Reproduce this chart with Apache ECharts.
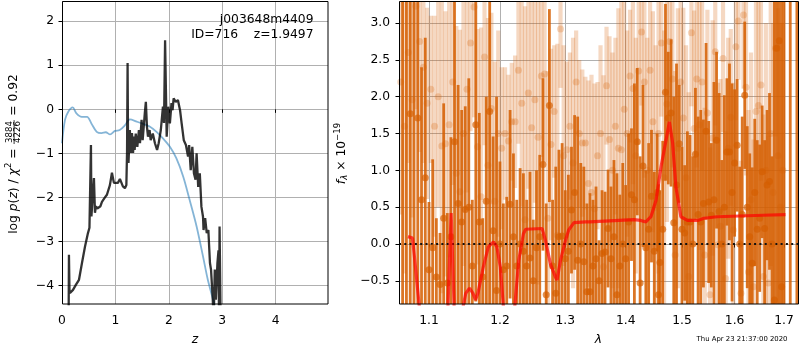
<!DOCTYPE html>
<html><head><meta charset="utf-8">
<script src="https://cdn.jsdelivr.net/npm/echarts@6/dist/echarts.min.js"></script>
<style>html,body{margin:0;padding:0;background:#fff}#c{width:800px;height:350px}</style>
</head><body><div id="c"></div>
<script>
// ---------- tick labels ----------
const zTicks = [0, 1, 2, 3, 4];
const logpTicks = [-4, -3, -2, -1, 0, 1, 2];
const lamTicks = [1.1, 1.2, 1.3, 1.4, 1.5, 1.6, 1.7];
const fluxTicks = [-0.5, 0.0, 0.5, 1.0, 1.5, 2.0, 2.5, 3.0];

// ---------- left panel: log p(z) ----------
const pzZ = [0.10,0.125,0.13,0.14,0.15,0.206,0.262,0.318,0.374,0.43,0.486,0.514,0.535,0.542,0.551,0.579,0.598,0.617,0.636,0.66,0.692,0.72,0.748,0.804,0.841,0.897,0.935,0.972,1.009,1.047,1.084,1.14,1.178,1.205,1.218,1.228,1.235,1.245,1.27,1.29,1.31,1.33,1.35,1.36,1.38,1.41,1.44,1.46,1.49,1.51,1.55,1.57,1.59,1.61,1.64,1.66,1.70,1.74,1.78,1.81,1.85,1.89,1.91,1.93,1.96,1.99,2.02,2.05,2.07,2.09,2.13,2.17,2.21,2.24,2.28,2.32,2.36,2.38,2.41,2.44,2.47,2.50,2.52,2.55,2.58,2.61,2.64,2.65,2.68,2.71,2.74,2.77,2.79,2.82,2.84,2.86,2.88,2.91,2.93,2.94,2.95,2.97];
const pzLogP = [-4.6,-4.5,-3.3,-4.1,-4.17,-4.1,-3.98,-3.87,-3.49,-3.12,-2.81,-2.69,-2.7,-0.81,-2.43,-2.4,-1.56,-2.35,-2.2,-2.25,-2.28,-2.2,-2.1,-2.0,-1.94,-1.72,-1.44,-1.67,-1.64,-1.67,-1.58,-1.75,-1.79,-1.72,-0.95,1.05,-0.5,-1.22,-0.47,-0.99,-0.54,-0.99,-0.62,-0.92,-0.55,-0.85,-0.47,-0.77,-0.24,-0.7,-0.09,0.17,-0.39,-0.62,-0.47,-0.7,-0.55,-0.77,-0.92,-0.77,-0.47,0.06,-0.31,1.57,-0.62,0.06,-0.32,0.14,-0.02,0.25,0.17,0.21,-0.02,-0.32,-0.7,-0.81,-1.07,-0.81,-1.38,-0.85,-1.45,-1.6,-1.0,-1.76,-1.45,-2.21,-2.44,-2.74,-2.47,-2.81,-2.74,-3.49,-3.64,-4.25,-4.8,-3.64,-4.32,-3.49,-3.2,-4.8,-2.66,-4.8];
const priorZ = [0,0.056,0.12,0.2,0.27,0.37,0.47,0.55,0.65,0.74,0.82,0.90,0.99,1.08,1.18,1.27,1.40,1.52,1.64,1.77,1.89,2.02,2.14,2.27,2.39,2.52,2.64,2.73,2.85,2.9];
const priorLogP = [-0.77,-0.24,-0.05,0.045,-0.09,-0.17,-0.17,-0.32,-0.51,-0.54,-0.52,-0.57,-0.49,-0.47,-0.36,-0.23,-0.28,-0.33,-0.39,-0.51,-0.66,-0.85,-1.11,-1.53,-2.06,-2.66,-3.34,-3.87,-4.42,-4.7];

// ---------- right panel: spectrum ----------
const darkLam = [1.065,1.070,1.075,1.080,1.085,1.090,1.095,1.100,1.105,1.110,1.115,1.120,1.125,1.130,1.135,1.140,1.145,1.150,1.155,1.160,1.165,1.170,1.175,1.180,1.185,1.190,1.195,
1.200,1.205,1.210,1.215,1.220,1.225,1.230,1.235,1.240,1.245,1.250,1.255,1.260,1.265,1.270,1.275,1.280,1.285,1.290,1.295,1.300,1.305,1.310,1.315,1.320,1.325,1.330,1.335,1.340,1.345,1.350,
1.355,1.360,1.365,1.370,1.375,1.380,1.385,1.390,1.395,1.400,1.405,1.410,1.415,1.420,1.425,1.430,1.435,1.440,1.445,1.450,1.455,1.4575,1.460,1.465,1.470,1.475,1.480,1.485,1.490,1.495,1.500,1.505,1.510,1.515,1.520,1.525,1.530,
1.535,1.540,1.545,1.550,1.555,1.560,1.565,1.570,1.575,1.580,1.585,1.590,1.595,1.600,1.605,1.610,1.615,1.620,1.625,1.630,1.635,1.640,1.645,1.650,1.655,1.660,1.665,1.670,1.675,1.680,1.685,1.690,1.695,1.700,1.713,1.727];
const darkFlux = [3.6,-1.3,1.77,3.5,1.71,0.6,0.9,-0.35,-0.05,-0.45,-0.55,0.35,-0.53,0.1,1.39,0.55,0.3,0.47,0.5,-0.3,1.62,0.3,-0.45,0.58,1.8,0.18,-0.63,
0.0,-0.35,-0.3,0.54,0.1,-0.3,0.0,-0.1,-0.3,-0.19,-0.5,-0.05,0.1,1.08,-0.69,1.88,-0.3,-0.67,0.1,0.11,-0.2,-0.1,0.46,0.7,-0.22,0.0,-0.24,-0.65,-0.65,-0.3,-0.2,
-0.5,-0.13,-0.11,0.21,-0.2,0.1,-0.69,-0.3,0.0,-0.2,0.3,0.67,0.6,1.39,-0.53,1.06,-0.05,0.2,0.65,-0.1,0.7,-0.69,-0.25,0.2,2.06,1.71,1.78,0.29,0.8,1.36,0.2,0.15,0.3,0.3,0.0,1.22,0.4,
0.3,0.55,1.53,0.57,0.39,0.6,1.41,0.44,0.0,0.5,1.25,1.25,0.7,1.1,1.34,0.0,0.4,2.02,0.5,0.1,-0.26,0.7,0.2,0.35,0.98,0.21,0.8,0.85,0.0,-0.76,2.66,2.76,-0.58,-1.3,-1.4,3.6];
const darkErr = [4.5,4.6,3,4.5,3,1.8,1.9,0.92,1.2,0.8,0.7,1.56,0.95,1.35,2.6,1.61,1.52,1.4,1.75,0.9,2.4,1.48,0.8,1.42,2.8,1.28,2.63,
1.12,0.9,0.94,1.28,1.13,0.9,1.03,1.06,0.9,1.17,0.83,1.05,1.11,1.17,1.24,1.31,0.9,1.72,1.18,1.26,0.93,1.04,0.86,1.05,1.95,1.1,1.29,1.2,1.34,0.9,0.98,
0.55,0.86,0.82,0.8,0.98,1.04,1.65,0.97,1.1,1.0,1.2,0.9,1.58,1.0,1.72,1.1,1.05,1.17,0.9,1.08,0.8,1.5,0.98,1.2,1.2,0.9,1.0,1.71,1.65,0.8,1.12,0.92,1.23,1.18,1.19,0.9,1.33,
1.52,1.14,1.2,1.1,0.98,1.6,1.2,1.61,1.14,1.52,1.0,1.2,1.48,1.0,0.9,1.05,1.33,1.0,1.1,1.13,1.3,1.0,1.21,1.0,0.9,1.2,1.02,1.2,1.19,4.2,3.6,3.6,4.0,4.8,4.9,4.5];

const lightLam = [1.0625,1.0675,1.0725,1.0775,1.0825,1.0875,1.0925,1.0975,1.1025,1.1075,1.1125,1.1175,1.1225,1.1275,1.1325,1.1375,1.1425,1.1475,1.1525,1.1575,1.1625,1.1675,1.1725,1.1775,1.1825,1.1875,1.1925,1.1975,
1.2025,1.2075,1.2125,1.2175,1.2225,1.2275,1.2325,1.2375,1.2425,1.2475,1.2525,1.2575,1.2625,1.2675,1.2725,1.2775,1.2825,1.2875,1.2925,1.2975,
1.3025,1.3075,1.3125,1.3175,1.3225,1.3275,1.3325,1.3375,1.3425,1.3475,1.3525,1.3575,1.3625,1.3675,1.3725,1.3775,1.3825,1.3875,1.3925,1.3975,
1.4025,1.4075,1.4125,1.4175,1.4225,1.4275,1.4325,1.4375,1.4425,1.4475,1.4525,1.4575,1.4625,1.4675,1.4725,1.4775,1.4825,1.4875,1.4925,1.4975,
1.5025,1.5075,1.5125,1.5175,1.5225,1.5275,1.5325,1.5375,1.5425,1.5475,1.5525,1.5575,1.5625,1.5675,1.5725,1.5775,1.5825,1.5875,1.5925,1.5975,
1.6025,1.6075,1.6125,1.6175,1.6225,1.6275,1.6325,1.6375,1.6425,1.6475,1.6525,1.6575,1.6625,1.6675,1.6725,1.6775,1.6825,1.6875,1.6925,1.6975];
const lightFlux = [2.2,1.6,2.6,1.96,3.23,2.75,2.4,1.91,2.1,1.6,2.0,1.33,1.36,1.62,2.2,0.96,0.71,1.5,2.1,2.73,3.22,1.32,0.64,2.54,1.07,1.84,0.58,1.5,
1.3,1.5,1.4,1.66,1.66,2.36,1.91,0.33,2.05,1.58,1.96,1.45,2.28,2.31,0.35,1.35,1.8,0.12,2.92,1.2,
1.28,1.6,1.1,2.2,1.5,1.37,1.37,0.82,0.7,0.48,1.2,1.5,-0.31,2.15,1.42,1.0,1.6,1.3,1.28,1.83,
1.5,2.28,2.11,1.2,2.35,2.88,2.2,1.0,2.36,1.66,0.5,1.5,2.73,0.9,1.9,2.75,2.24,-0.15,1.3,2.2,
1.71,0.9,-0.44,2.87,1.57,2.24,1.62,2.2,-0.15,1.78,-0.69,1.44,2.61,-0.01,0.24,2.52,-0.47,1.3,1.72,0.19,
2.68,3.03,-0.67,3.11,2.13,-0.38,0.6,-0.58,1.8,1.88,2.16,-0.44,1.0,-0.53,1.5,0.7,2.66,1.2,0.5,1.0];
const lightErr = [1.8,2.0,1.5,1.6,1.4,1.5,1.3,1.3,1.0,1.5,1.5,2.0,1.8,1.8,1.4,2.0,2.2,1.8,1.4,1.2,1.5,1.6,2.3,1.2,2.0,1.3,1.9,1.4,
1.1,0.9,0.9,0.8,0.9,1.0,1.4,2.9,1.3,1.8,1.4,2.0,1.1,1.2,2.0,1.3,0.9,2.6,0.8,1.5,
1.2,1.0,1.7,0.7,1.0,1.0,0.9,1.4,1.6,1.7,1.0,1.2,2.6,0.8,1.4,1.6,1.2,1.9,2.1,1.5,
1.4,0.9,1.3,1.6,1.0,1.0,1.3,1.8,1.0,1.5,2.2,1.9,1.0,2.0,1.6,1.0,1.2,2.5,1.9,1.2,
1.5,1.8,2.5,1.0,1.6,1.2,1.7,1.2,2.0,1.4,2.0,1.6,1.0,2.2,2.0,1.0,2.0,1.5,1.2,2.0,
1.0,0.8,1.8,1.0,1.2,2.2,2.0,2.0,1.6,1.5,1.3,2.2,2.0,2.0,1.8,2.3,1.2,2.0,2.5,2.0];

const modelLam = [1.072,1.078,1.081,1.0875,1.095,1.11,1.12,1.1257,1.1303,1.1346,1.14,1.146,1.1507,1.156,1.161,1.1646,1.168,1.1758,1.183,1.1905,1.1955,1.2005,1.2055,1.213,1.2215,1.228,1.235,1.2385,1.2636,1.2688,1.2766,1.2845,1.287,1.2925,1.3005,1.3055,1.314,1.333,1.340,1.414,1.426,1.435,1.444,1.453,1.462,1.471,1.477,1.483,1.489,1.498,1.510,1.529,1.541,1.566,1.610,1.656,1.703];
const modelFlux = [0.1,0.08,-0.22,-0.9,-1.6,-1.8,-1.5,-0.9,0.42,-0.9,-1.3,-0.9,-0.67,-0.6,-0.67,-0.76,-0.67,-0.31,-0.04,0.03,-0.04,-0.31,-0.9,-1.3,-0.9,-0.22,0.14,0.2,0.21,0.05,-0.27,-0.45,-0.49,-0.22,0.05,0.19,0.29,0.3,0.3,0.33,0.32,0.3,0.37,0.59,1.05,1.41,1.66,1.37,0.77,0.37,0.32,0.32,0.35,0.37,0.38,0.39,0.4];

// ---------- helpers ----------
const FONT = 'DejaVu Sans';
const FS = 12.3;
const mctx = document.createElement('canvas').getContext('2d');
function tw(t, size, style) { mctx.font = (style || 'normal') + ' ' + size + 'px "' + FONT + '"'; return mctx.measureText(t).width; }
const minus = s => String(s).replace('-', '\u2212');
function txt(x, y, t, size, style, align, valign) {
  return { type: 'text', x: x, y: y, silent: true,
    style: { text: t, fontSize: size, fontFamily: FONT, fontStyle: style || 'normal', fill: '#000',
      textAlign: align || 'left', align: align || 'left', textVerticalAlign: valign || 'middle', verticalAlign: valign || 'middle' } };
}
function rotLabel(x0, y0, pieces) {
  let total = 0;
  pieces.forEach(p => { p.w = p.frac ? Math.max(tw(p.num, p.size), tw(p.den, p.size)) + 3 : tw(p.t, p.size, p.style); total += p.w; });
  let cx = -total / 2; const ch = [];
  pieces.forEach(p => {
    if (p.frac) {
      ch.push(txt(cx + p.w / 2, p.ny, p.num, p.size, 'normal', 'center'));
      ch.push(txt(cx + p.w / 2, p.dy2, p.den, p.size, 'normal', 'center'));
      ch.push({ type: 'line', silent: true, shape: { x1: cx + 0.5, y1: p.ly, x2: cx + p.w - 0.5, y2: p.ly }, style: { stroke: '#000', lineWidth: 0.8 } });
    } else {
      ch.push(txt(cx, p.dy || 0, p.t, p.size, p.style, 'left'));
    }
    cx += p.w;
  });
  return { type: 'group', x: x0, y: y0, rotation: Math.PI / 2, children: ch };
}
function errRender(width, color) {
  return function (params, api) {
    const x = api.value(0), y = api.value(1), e = api.value(2);
    const p1 = api.coord([x, y + e]), p2 = api.coord([x, y - e]);
    const cs = params.coordSys;
    const top = Math.max(p1[1], cs.y), bot = Math.min(p2[1], cs.y + cs.height);
    let left = Math.max(p1[0] - width / 2, cs.x), right = Math.min(p1[0] + width / 2, cs.x + cs.width);
    if (bot <= top || right <= left) return null;
    return { type: 'rect', shape: { x: left, y: top, width: right - left, height: bot - top }, style: { fill: color } };
  };
}

const ORANGE_DARK = 'rgba(213,94,0,0.85)';
const ORANGE_LIGHT = 'rgba(213,94,0,0.24)';
const axisLabelBase = { color: '#000', fontFamily: FONT, fontSize: FS };
const tickBase = { show: true, inside: false, length: 3.5, lineStyle: { color: '#000', width: 1 } };
const splitBase = { show: true, lineStyle: { color: '#b0b0b0', width: 1 } };

const lnTicks = lamTicks.map(Math.log);
const chart = echarts.init(document.getElementById('c'), null, { renderer: 'canvas' });
const option = {
  animation: false,
  backgroundColor: '#fff',
  grid: [
    { left: 62, top: 1, width: 266, height: 303, show: false },
    { left: 399, top: 1, width: 399.5, height: 303, show: false }
  ],
  xAxis: [
    { gridIndex: 0, type: 'value', min: 0, max: 4.98, axisLine: { show: false },
      axisTick: Object.assign({ customValues: zTicks }, tickBase),
      axisLabel: Object.assign({ customValues: zTicks, margin: 11, formatter: v => minus(v) }, axisLabelBase),
      splitLine: splitBase },
    { gridIndex: 1, type: 'value', min: Math.log(1.0603), max: Math.log(1.7304), axisLine: { show: false },
      axisTick: Object.assign({ customValues: lnTicks }, tickBase),
      axisLabel: Object.assign({ customValues: lnTicks, margin: 11, formatter: v => Math.exp(v).toFixed(1) }, axisLabelBase),
      splitLine: splitBase }
  ],
  yAxis: [
    { gridIndex: 0, type: 'value', min: -4.42, max: 2.46, axisLine: { show: false },
      axisTick: Object.assign({ customValues: logpTicks }, tickBase),
      axisLabel: Object.assign({ customValues: logpTicks, margin: 8, formatter: v => minus(v) }, axisLabelBase),
      splitLine: splitBase },
    { gridIndex: 1, type: 'value', min: -0.815, max: 3.30, axisLine: { show: false },
      axisTick: Object.assign({ customValues: fluxTicks }, tickBase),
      axisLabel: Object.assign({ customValues: fluxTicks, margin: 9, formatter: v => minus(Number(v).toFixed(1)) }, axisLabelBase),
      splitLine: splitBase }
  ],
  series: [
    { type: 'line', xAxisIndex: 0, yAxisIndex: 0, z: 3, showSymbol: false, symbol: 'none', smooth: 0.3, clip: true,
      lineStyle: { color: 'rgba(31,119,180,0.55)', width: 1.8 },
      data: priorZ.map((z, i) => [z, priorLogP[i]]) },
    { type: 'line', xAxisIndex: 0, yAxisIndex: 0, z: 4, showSymbol: false, symbol: 'none', clip: true,
      lineStyle: { color: 'rgba(0,0,0,0.8)', width: 2.3 },
      data: pzZ.map((z, i) => [z, pzLogP[i]]) },
    { type: 'custom', xAxisIndex: 1, yAxisIndex: 1, z: 2, clip: true, renderItem: errRender(4.2, ORANGE_LIGHT),
      encode: { x: 0, y: 1 },
      data: lightLam.map((l, i) => [Math.log(l), lightFlux[i], lightErr[i]]) },
    { type: 'scatter', xAxisIndex: 1, yAxisIndex: 1, z: 3, symbolSize: 7, clip: true,
      itemStyle: { color: 'rgba(213,94,0,0.3)' },
      data: lightLam.map((l, i) => [Math.log(l), lightFlux[i]]) },
    { type: 'custom', xAxisIndex: 1, yAxisIndex: 1, z: 4, clip: true, renderItem: errRender(2.8, ORANGE_DARK),
      encode: { x: 0, y: 1 },
      data: darkLam.map((l, i) => [Math.log(l), darkFlux[i], darkErr[i]]) },
    { type: 'scatter', xAxisIndex: 1, yAxisIndex: 1, z: 5, symbolSize: 7, clip: true,
      itemStyle: { color: 'rgba(213,94,0,0.85)' },
      data: darkLam.map((l, i) => [Math.log(l), darkFlux[i]]) },
    { type: 'line', xAxisIndex: 1, yAxisIndex: 1, z: 6, showSymbol: false, symbol: 'none', clip: true,
      lineStyle: { color: 'rgba(255,0,0,0.7)', width: 3.2 },
      data: modelLam.map((l, i) => [Math.log(l), modelFlux[i]]),
      markLine: { silent: true, symbol: 'none', label: { show: false }, animation: false,
        lineStyle: { color: '#111', type: [2, 3.3], width: 2 },
        data: [{ yAxis: 0 }] } }
  ],
  graphic: [
    { type: 'rect', z: 100, silent: true, shape: { x: 62.5, y: 1.5, width: 265.5, height: 302.5 }, style: { fill: 'none', stroke: '#000', lineWidth: 1 } },
    { type: 'rect', z: 100, silent: true, shape: { x: 399.5, y: 1.5, width: 399, height: 302.5 }, style: { fill: 'none', stroke: '#000', lineWidth: 1 } },
    Object.assign(txt(313.5, 20, 'j003648m4409', FS, 'normal', 'right'), { z: 101 }),
    Object.assign(txt(313.5, 34.5, 'ID=716    z=1.9497', FS, 'normal', 'right'), { z: 101 }),
    txt(195, 340, 'z', FS, 'italic', 'center'),
    txt(598.5, 340, '\u03bb', FS, 'italic', 'center'),
    txt(787.5, 339.5, 'Thu Apr 23 21:37:00 2020', 6.9, 'normal', 'right'),
    rotLabel(13.5, 154, [
      { t: 'log ', size: FS }, { t: 'p', size: FS, style: 'italic' }, { t: '(', size: FS }, { t: 'z', size: FS, style: 'italic' },
      { t: ') / ', size: FS }, { t: '\u03c7', size: FS, style: 'italic' }, { t: '2', size: 8.6, dy: -4.5 }, { t: ' = ', size: FS },
      { frac: true, num: '3884', den: '4226', size: 8.6, ny: -3.6, dy2: 4.6, ly: 0.6 },
      { t: ' = 0.92', size: FS }
    ]),
    rotLabel(342, 153.5, [
      { t: 'f', size: FS, style: 'italic' }, { t: '\u03bb', size: 8.6, style: 'italic', dy: 3.2 },
      { t: ' \u00d7 10', size: FS }, { t: '\u221219', size: 8.6, dy: -4.5 }
    ])
  ]
};
chart.setOption(option);
</script></body></html>
